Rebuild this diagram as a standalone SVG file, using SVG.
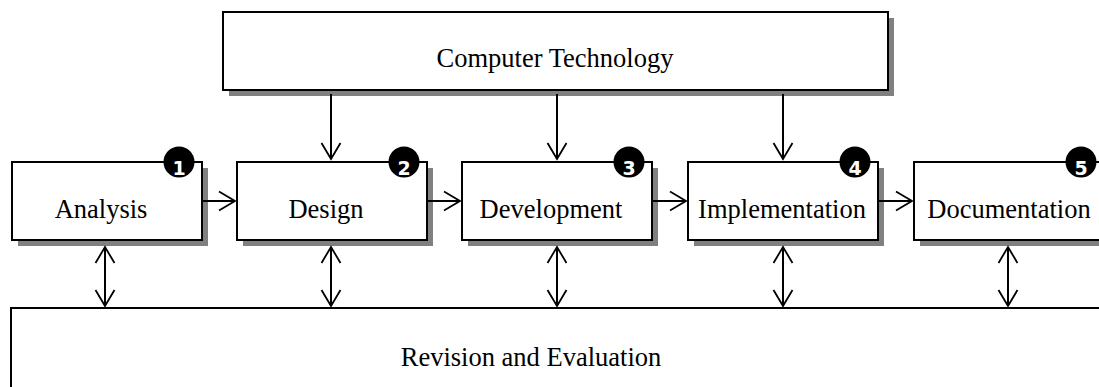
<svg xmlns="http://www.w3.org/2000/svg" width="1099" height="387" viewBox="0 0 1099 387">
<style>
.shadow{fill:#808080;stroke:none}
.box{fill:#fff;stroke:#000;stroke-width:2}
.lbl{font-family:"Liberation Serif","Times New Roman",serif;font-size:26.5px;fill:#000;text-anchor:middle}
.badge{fill:#000}
.num{font-family:"DejaVu Sans","Liberation Sans",Arial,sans-serif;font-weight:bold;font-size:19px;fill:#fff;text-anchor:middle}
.conn{fill:none;stroke:#000;stroke-width:2}
</style>
<defs>
<marker id="ah" markerUnits="userSpaceOnUse" viewBox="-18 -11 20 22" refX="0" refY="0" markerWidth="20" markerHeight="22" orient="auto-start-reverse" overflow="visible">
<path d="M-16,-9.5 L0,0 L-16,9.5" fill="none" stroke="#000" stroke-width="1.8"/>
</marker>
</defs>
<rect width="1099" height="387" fill="#fff"/>
<g id="computer-technology">
<rect class="shadow" x="229" y="18" width="665" height="78"/>
<rect class="box" x="223" y="12" width="665" height="78"/>
<text class="lbl" x="555" y="67">Computer Technology</text>
</g>
<g id="analysis">
<rect class="shadow" x="18" y="168" width="190" height="78"/>
<rect class="box" x="12" y="162" width="190" height="78"/>
<text class="lbl" x="101" y="218">Analysis</text>
<circle class="badge" cx="179" cy="162" r="15.5"/>
<text class="num" x="179" y="175">1</text>
</g>
<g id="design">
<rect class="shadow" x="243" y="168" width="190" height="78"/>
<rect class="box" x="237" y="162" width="190" height="78"/>
<text class="lbl" x="326" y="218">Design</text>
<circle class="badge" cx="404" cy="162" r="15.5"/>
<text class="num" x="404" y="175">2</text>
</g>
<g id="development">
<rect class="shadow" x="468" y="168" width="190" height="78"/>
<rect class="box" x="462" y="162" width="190" height="78"/>
<text class="lbl" x="551" y="218">Development</text>
<circle class="badge" cx="629" cy="162" r="15.5"/>
<text class="num" x="629" y="175">3</text>
</g>
<g id="implementation">
<rect class="shadow" x="694" y="168" width="190" height="78"/>
<rect class="box" x="688" y="162" width="190" height="78"/>
<text class="lbl" x="782" y="218">Implementation</text>
<circle class="badge" cx="855" cy="162" r="15.5"/>
<text class="num" x="855" y="175">4</text>
</g>
<g id="documentation">
<rect class="shadow" x="920" y="168" width="190" height="78"/>
<rect class="box" x="914" y="162" width="190" height="78"/>
<text class="lbl" x="1009" y="218">Documentation</text>
<circle class="badge" cx="1081" cy="162" r="15.5"/>
<text class="num" x="1081" y="175">5</text>
</g>
<g id="revision-evaluation">
<rect class="box" x="11" y="308" width="1100" height="100"/>
<text class="lbl" x="531" y="366">Revision and Evaluation</text>
</g>
<g id="connectors">
<line class="conn" x1="331" y1="94" x2="331" y2="159" marker-end="url(#ah)"/>
<line class="conn" x1="557" y1="94" x2="557" y2="159" marker-end="url(#ah)"/>
<line class="conn" x1="783" y1="94" x2="783" y2="159" marker-end="url(#ah)"/>
<line class="conn" x1="203" y1="201" x2="235" y2="201" marker-end="url(#ah)"/>
<line class="conn" x1="428" y1="201" x2="460" y2="201" marker-end="url(#ah)"/>
<line class="conn" x1="653" y1="201" x2="686" y2="201" marker-end="url(#ah)"/>
<line class="conn" x1="879" y1="201" x2="912" y2="201" marker-end="url(#ah)"/>
<line class="conn" x1="105" y1="247" x2="105" y2="306" marker-start="url(#ah)" marker-end="url(#ah)"/>
<line class="conn" x1="331" y1="247" x2="331" y2="306" marker-start="url(#ah)" marker-end="url(#ah)"/>
<line class="conn" x1="557" y1="247" x2="557" y2="306" marker-start="url(#ah)" marker-end="url(#ah)"/>
<line class="conn" x1="783" y1="247" x2="783" y2="306" marker-start="url(#ah)" marker-end="url(#ah)"/>
<line class="conn" x1="1008" y1="247" x2="1008" y2="306" marker-start="url(#ah)" marker-end="url(#ah)"/>
</g>
</svg>
